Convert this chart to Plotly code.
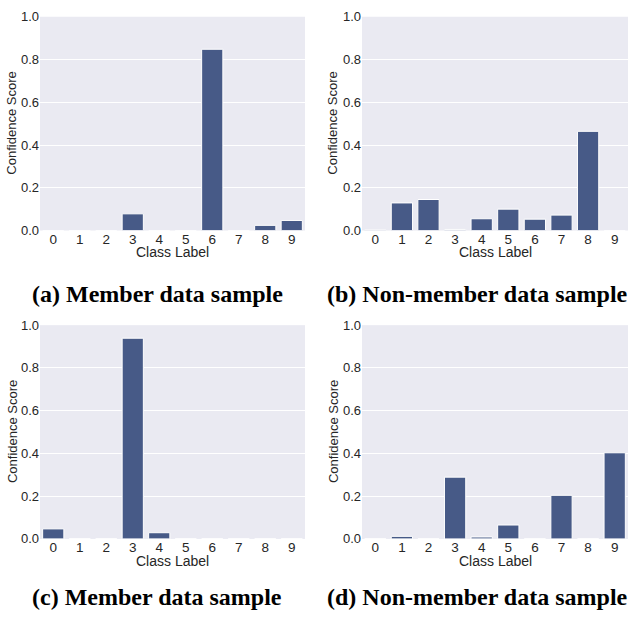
import plotly.graph_objs as go


classes = ['0', '1', '2', '3', '4', '5', '6', '7', '8', '9']

member_a = [0.0, 0.0, 0.0, 0.078, 0.0, 0.0, 0.848, 0.0, 0.024, 0.047]
nonmember_b = [0.002, 0.129, 0.145, 0.005, 0.055, 0.100, 0.053, 0.072, 0.464, 0.0]
member_c = [0.047, 0.0, 0.0, 0.939, 0.029, 0.0, 0.0, 0.0, 0.0, 0.0]
nonmember_d = [0.0, 0.012, 0.0, 0.289, 0.009, 0.065, 0.0, 0.204, 0.0, 0.403]

captions = [
    '(a) Member data sample',
    '(b) Non-member data sample',
    '(c) Member data sample',
    '(d) Non-member data sample',
]

W, H = 629, 625
BAR = '#475a87'
BG = '#eaeaf2'
TXT = '#262626'

# pixel boxes of the four panels: (left, right, top, bottom)
boxes = [
    (40, 305, 10, 229),
    (362, 628, 10, 229),
    (40, 305, 326, 545),
    (362, 628, 326, 545),
]
caption_x = [157, 477]
caption_y = [294, 605]
ytitle_x = [12, 333]


def px(x):
    return x / W


def py(y):
    return 1 - y / H


def plot():
    series = [member_a, nonmember_b, member_c, nonmember_d]
    fig = go.Figure()
    sans = dict(family='Liberation Sans, Arial, sans-serif', size=13, color=TXT)
    layout = dict(
        width=W,
        height=H,
        margin=dict(l=0, r=0, t=0, b=0),
        paper_bgcolor='white',
        plot_bgcolor=BG,
        showlegend=False,
        bargap=0.2,
        font=sans,
        annotations=[],
    )

    for i, (vals, box) in enumerate(zip(series, boxes)):
        n = '' if i == 0 else str(i + 1)
        fig.add_trace(
            go.Bar(
                x=classes,
                y=vals,
                xaxis='x' + n,
                yaxis='y' + n,
                marker=dict(
                    color=BAR,
                    line=dict(color='white', width=1)),
            )
        )
        l, r, t, b = box
        layout['xaxis' + n] = dict(
            domain=[px(l), px(r)],
            anchor='y' + n,
            type='category',
            range=[-0.5, 9.5],
            showgrid=False,
            zeroline=False,
            showline=False,
            ticks='',
            ticklabelstandoff=-1,
            tickfont=dict(sans, size=13.5),
        )
        layout['yaxis' + n] = dict(
            domain=[py(b), py(t)],
            anchor='x' + n,
            range=[0, 1.0],
            tickvals=[0, 0.2, 0.4, 0.6, 0.8, 1.0],
            tickformat='.1f',
            showgrid=True,
            gridcolor='white',
            gridwidth=1,
            zeroline=False,
            showline=False,
            ticks='',
            ticklabelstandoff=0,
            tickfont=sans,
        )
        # axis titles
        layout['annotations'].append(dict(
            text='Class Label',
            x=px((l + r) / 2), y=py(b + 22.5),
            xref='paper', yref='paper',
            xanchor='center', yanchor='middle',
            showarrow=False, font=dict(sans, size=14),
        ))
        layout['annotations'].append(dict(
            text='Confidence Score',
            x=px(ytitle_x[i % 2]), y=py((t + b) / 2),
            xref='paper', yref='paper',
            xanchor='center', yanchor='middle',
            textangle=-90,
            showarrow=False, font=sans,
        ))
        layout['annotations'].append(dict(
            text='<b>' + captions[i] + '</b>',
            x=px(caption_x[i % 2]),
            y=py(caption_y[i // 2]),
            xref='paper', yref='paper',
            xanchor='center', yanchor='middle',
            showarrow=False,
            font=dict(family='Liberation Serif, Times New Roman, serif', size=24, color='black'),
        ))

    fig.update_layout(**layout)
    # drop the browser's default 8px body margin so the figure sits at the corner
    fig.write_html(
        'out.html',
        config={'displayModeBar': False},
        post_script="document.body.style.margin = '0';",
    )


plot()
